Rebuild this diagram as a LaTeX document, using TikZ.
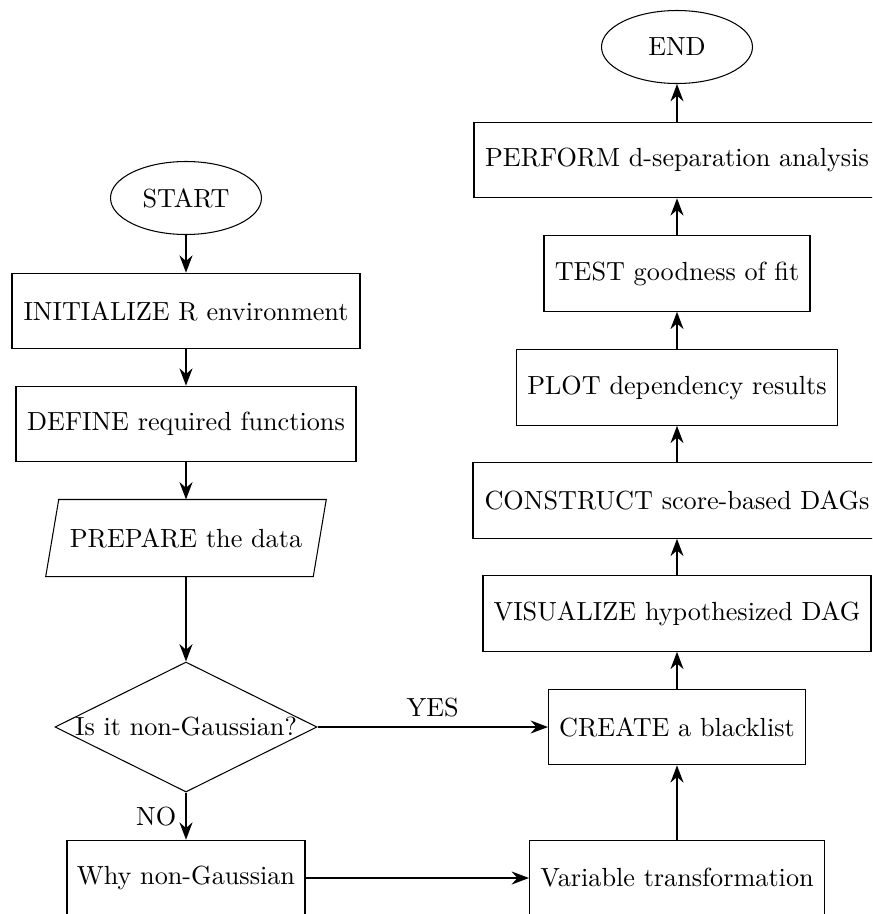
\documentclass[tikz,border=0pt]{standalone}
\usetikzlibrary{shapes.geometric,arrows.meta}
\def\pxu{0.3817pt}
\begin{document}
\begin{tikzpicture}[x=\pxu, y=-\pxu,
  box/.style={draw, rectangle, minimum height=75.5*\pxu, inner sep=0pt},
  term/.style={draw, ellipse, minimum width=151*\pxu, minimum height=73*\pxu, inner sep=0pt},
  decision/.style={draw, diamond, minimum width=262*\pxu, minimum height=130*\pxu, inner sep=0pt},
  arr/.style={thick, -Stealth}]
\useasboundingbox (0,0) rectangle (872,914);
\clip (0,0) rectangle (872,914);
% left column
\node[term] (start) at (186,198) {START};
\node[box, minimum width=348*\pxu] (init) at (186,311) {INITIALIZE R environment};
\node[box, minimum width=340*\pxu] (def) at (186,424) {DEFINE required functions};
\node[rectangle, minimum width=266.5*\pxu, minimum height=76*\pxu, inner sep=0pt] (prep) at (186,538) {PREPARE the data};
\draw ([xshift=-6.5*\pxu]prep.south west) -- ([xshift=6.5*\pxu]prep.north west)
   -- ([xshift=6.5*\pxu]prep.north east) -- ([xshift=-6.5*\pxu]prep.south east) -- cycle;
\node[decision] (dec) at (186,727) {\makebox[0pt]{Is it non-Gaussian?}};
\node[box, minimum width=238*\pxu] (why) at (186,878) {Why non-Gaussian};
% right column
\node[box, minimum width=295*\pxu] (var) at (677,878) {Variable transformation};
\node[box, minimum width=257*\pxu] (bl) at (677,727) {CREATE a blacklist};
\node[box, minimum width=388*\pxu] (vis) at (677,613.5) {VISUALIZE hypothesized DAG};
\node[box, minimum width=408*\pxu] (con) at (677,500.5) {CONSTRUCT score-based DAGs};
\node[box, minimum width=321*\pxu] (plot) at (677,387.5) {PLOT dependency results};
\node[box, minimum width=266*\pxu] (test) at (677,273.5) {TEST goodness of fit};
\node[box, minimum width=406*\pxu] (perf) at (677,160) {PERFORM d-separation analysis};
\node[term] (end) at (677,47) {END};
% connectors
\draw[arr] (start) -- (init);
\draw[arr] (init) -- (def);
\draw[arr] (def) -- (prep);
\draw[arr] (prep) -- (dec);
\draw[arr] (dec) -- node[left] {NO} (why);
\draw[arr] (dec) -- node[above] {YES} (bl);
\draw[arr] (why) -- (var);
\draw[arr] (var) -- (bl);
\draw[arr] (bl) -- (vis);
\draw[arr] (vis) -- (con);
\draw[arr] (con) -- (plot);
\draw[arr] (plot) -- (test);
\draw[arr] (test) -- (perf);
\draw[arr] (perf) -- (end);
\end{tikzpicture}
\end{document}
